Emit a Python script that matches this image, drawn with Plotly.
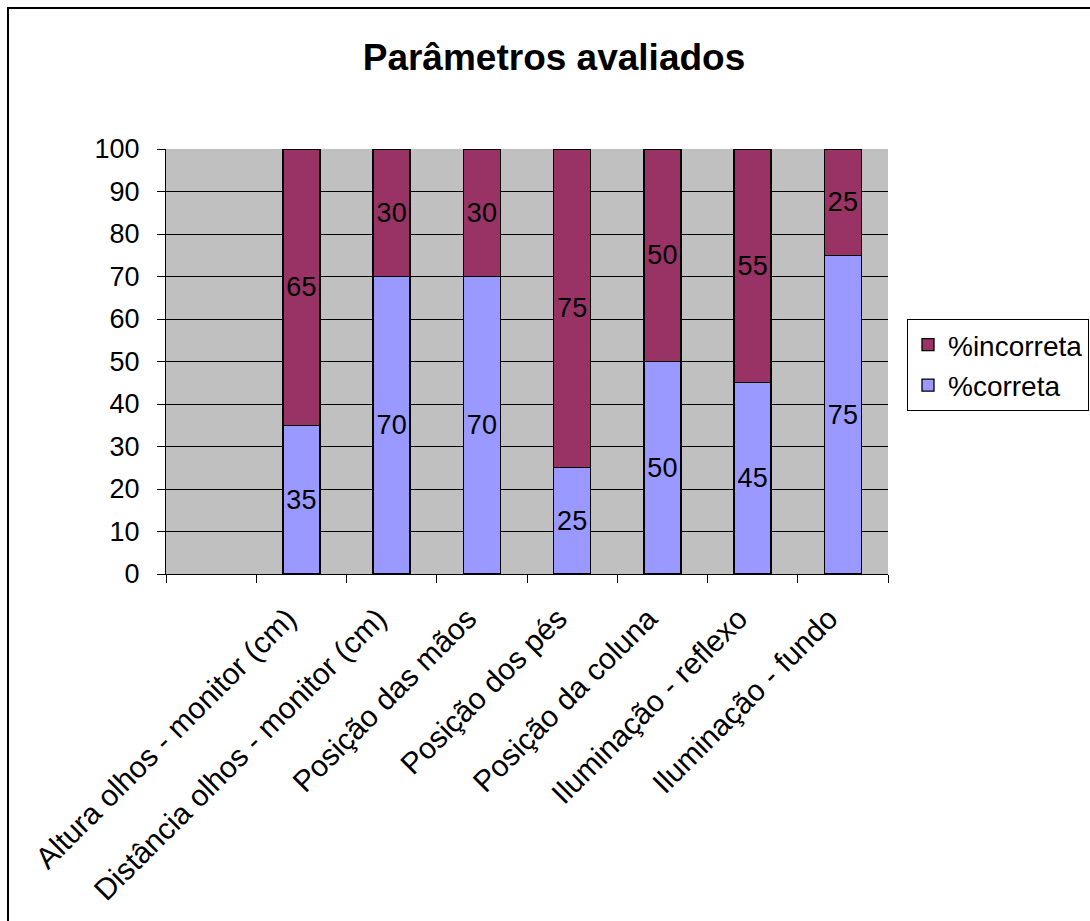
import plotly.graph_objects as go

categories = [" ", "Altura olhos - monitor (cm)", "Distância olhos - monitor (cm)",
              "Posição das mãos", "Posição dos pés", "Posição da coluna",
              "Iluminação - reflexo", "Iluminação - fundo"]
correta = [None, 35, 70, 70, 25, 50, 45, 75]
incorreta = [None, 65, 30, 30, 75, 50, 55, 25]
y_ticks = [0, 10, 20, 30, 40, 50, 60, 70, 80, 90, 100]

FONT = "Liberation Sans, Arial, sans-serif"
W, H = 1090, 921
L, R, T, B = 166, 888, 149, 574

def lbl(v):
    return ["" if x is None else str(x) for x in v]

fig = go.Figure()
fig.add_trace(go.Bar(
    x=categories, y=correta, name="%correta",
    marker=dict(color="#9999FF", line=dict(color="black", width=1.3)),
    text=lbl(correta), textposition="inside", insidetextanchor="middle",
    textangle=0, constraintext="none",
    textfont=dict(family=FONT, size=27, color="black"),
    legendgroup="c", legendrank=2,
))
fig.add_trace(go.Bar(
    x=categories, y=incorreta, name="%incorreta",
    marker=dict(color="#993366", line=dict(color="black", width=1.3)),
    text=lbl(incorreta), textposition="inside", insidetextanchor="middle",
    textangle=0, constraintext="none",
    textfont=dict(family=FONT, size=27, color="black"),
    legendgroup="i", legendrank=1,
))

pw, ph = R - L, B - T
fig.update_layout(
    width=W, height=H,
    margin=dict(l=L, r=W - R, t=T, b=H - B, autoexpand=False),
    barmode="stack", bargap=0.59,
    paper_bgcolor="white", plot_bgcolor="#C0C0C0",
    font=dict(family=FONT, size=27, color="black"),
    title=dict(text="Parâmetros avaliados", x=554 / W, xanchor="center",
               xref="container", yref="container", y=1 - 57 / H, yanchor="middle",
               font=dict(family=FONT, size=37, color="black", weight="bold")),
    showlegend=True,
    legend=dict(x=(907 - L) / pw, xanchor="left", y=(B - 319) / ph, yanchor="top",
                bordercolor="black", borderwidth=1, bgcolor="white",
                font=dict(family=FONT, size=28, color="black"),
                tracegroupgap=1, traceorder="grouped"),
    xaxis=dict(categoryorder="array", categoryarray=categories,
               range=[-0.5, len(categories) - 0.5],
               tickson="boundaries", ticks="outside", ticklen=8, tickcolor="black",
               showline=True, linecolor="black", linewidth=1,
               tickangle=-45, showgrid=False,
               tickfont=dict(family=FONT, size=30, color="black"),
               ticklabelstandoff=14, ticklabelshift=-14),
    yaxis=dict(range=[0, 100], tickvals=y_ticks, ticks="outside", ticklen=8,
               tickcolor="black", showline=True, linecolor="black", linewidth=1,
               showgrid=True, gridcolor="black", gridwidth=1, zeroline=False,
               tickfont=dict(family=FONT, size=27, color="black"),
               ticklabelstandoff=12),
    shapes=[dict(type="rect", xref="paper", yref="paper",
                 x0=(8 - L) / pw, x1=(1100 - L) / pw,
                 y0=(B - 8) / ph, y1=(B - 940) / ph,
                 line=dict(color="black", width=2), fillcolor="rgba(0,0,0,0)")],
)

fig.write_html("out.html")
